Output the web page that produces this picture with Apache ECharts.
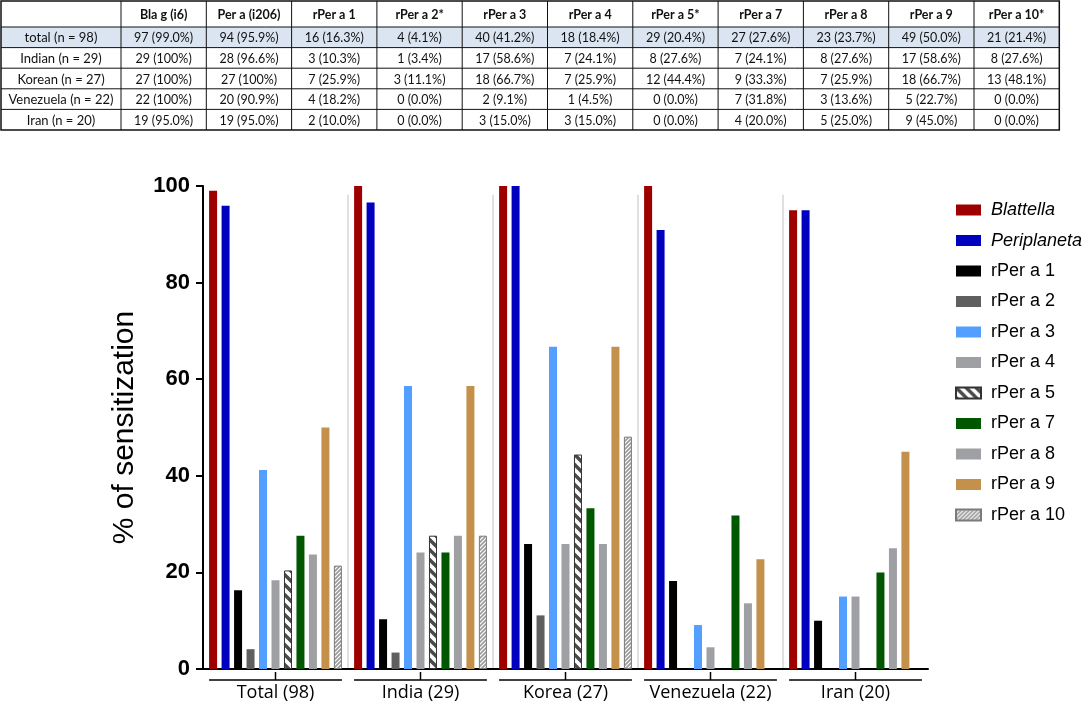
<!DOCTYPE html>
<html><head><meta charset="utf-8">
<script src="https://cdn.jsdelivr.net/npm/echarts@6/dist/echarts.min.js"></script>
<style>html,body{margin:0;padding:0;background:#fff}#c{width:1084px;height:706px}</style>
</head><body><div id="c"></div>
<script>
// ---- chart data (percent sensitized) ----
const categories = ['Total (98)', 'India (29)', 'Korea (27)', 'Venezuela (22)', 'Iran (20)'];
const seriesNames = ['Blattella', 'Periplaneta', 'rPer a 1', 'rPer a 2', 'rPer a 3', 'rPer a 4', 'rPer a 5', 'rPer a 7', 'rPer a 8', 'rPer a 9', 'rPer a 10'];
const blattella   = [99.0, 100, 100, 100, 95.0];
const periplaneta = [95.9, 96.6, 100, 90.9, 95.0];
const rPer1  = [16.3, 10.3, 25.9, 18.2, 10.0];
const rPer2  = [4.1, 3.4, 11.1, 0.0, 0.0];
const rPer3  = [41.2, 58.6, 66.7, 9.1, 15.0];
const rPer4  = [18.4, 24.1, 25.9, 4.5, 15.0];
const rPer5  = [20.4, 27.6, 44.4, 0.0, 0.0];
const rPer7  = [27.6, 24.1, 33.3, 31.8, 20.0];
const rPer8  = [23.7, 27.6, 25.9, 13.6, 25.0];
const rPer9  = [50.0, 58.6, 66.7, 22.7, 45.0];
const rPer10 = [21.4, 27.6, 48.1, 0.0, 0.0];
const yTicks = [0, 20, 40, 60, 80, 100];

// ---- table data ----
const tableColumns = ['Bla g (i6)', 'Per a (i206)', 'rPer a 1', 'rPer a 2*', 'rPer a 3', 'rPer a 4', 'rPer a 5*', 'rPer a 7', 'rPer a 8', 'rPer a 9', 'rPer a 10*'];
const tableRows = ['total (n = 98)', 'Indian (n = 29)', 'Korean (n = 27)', 'Venezuela (n = 22)', 'Iran (n = 20)'];
const countsTotal     = [97, 94, 16, 4, 40, 18, 29, 27, 23, 49, 21];
const countsIndian    = [29, 28, 3, 1, 17, 7, 8, 7, 8, 17, 8];
const countsKorean    = [27, 27, 7, 3, 18, 7, 12, 9, 7, 18, 13];
const countsVenezuela = [22, 20, 4, 0, 2, 1, 0, 7, 3, 5, 0];
const countsIran      = [19, 19, 2, 0, 3, 3, 0, 4, 5, 9, 0];

const seriesData = [blattella, periplaneta, rPer1, rPer2, rPer3, rPer4, rPer5, rPer7, rPer8, rPer9, rPer10];
const tableCounts = [countsTotal, countsIndian, countsKorean, countsVenezuela, countsIran];

// ---- patterns ----
function stripesBack() { // "\" thick dark stripes on white
  const c = document.createElement('canvas'); c.width = 10; c.height = 10;
  const g = c.getContext('2d');
  g.fillStyle = '#ffffff'; g.fillRect(0, 0, 10, 10);
  g.strokeStyle = '#4a4a4a'; g.lineWidth = 3.4;
  [-10, 0, 10].forEach(o => { g.beginPath(); g.moveTo(o - 5, -5); g.lineTo(o + 15, 15); g.stroke(); });
  return c;
}
function stripesFwd() { // "/" thin white stripes on grey
  const c = document.createElement('canvas'); c.width = 4; c.height = 4;
  const g = c.getContext('2d');
  g.fillStyle = '#9a9a9a'; g.fillRect(0, 0, 4, 4);
  g.strokeStyle = '#ffffff'; g.lineWidth = 1.2;
  [-4, 0, 4].forEach(o => { g.beginPath(); g.moveTo(o - 2, 6); g.lineTo(o + 6, -2); g.stroke(); });
  return c;
}

const colors = [
  '#9e0000', '#0000bf', '#000000', '#5f5f5f', '#529fff', '#9fa0a4',
  { image: stripesBack(), repeat: 'repeat' },
  '#005700', '#9fa0a4', '#c4914c',
  { image: stripesFwd(), repeat: 'repeat' }
];
const borders = [null, null, null, null, null, null, '#333333', null, null, null, '#7a7a7a'];

const BAR_W = 8, BAR_GAP = 0.56;

const chart = echarts.init(document.getElementById('c'), null, { renderer: 'canvas' });

const series = seriesNames.map((name, i) => ({
  name: name,
  type: 'bar',
  data: seriesData[i].map(v => v === 0 ? { value: v, itemStyle: { borderWidth: 0 } } : v),
  barWidth: BAR_W,
  barGap: (BAR_GAP * 100) + '%',
  itemStyle: Object.assign({ color: colors[i] }, borders[i] ? { borderColor: borders[i], borderWidth: 1 } : {}),
  emphasis: { disabled: true },
  animation: false
}));

const option = {
  animation: false,
  backgroundColor: '#ffffff',
  grid: { left: 203, width: 725, top: 186, bottom: 37, containLabel: false },
  legend: {
    orient: 'vertical', left: 950, top: 196,
    itemWidth: 25, itemHeight: 11, itemGap: 12.5, icon: 'rect',
    data: seriesNames,
    formatter: n => (n === 'Blattella' || n === 'Periplaneta') ? '{it|' + n + '}' : '{n|' + n + '}',
    textStyle: {
      color: '#000', fontFamily: 'Liberation Sans', fontSize: 18, padding: [0, 0, 0, 5],
      rich: {
        it: { fontStyle: 'italic', fontSize: 18, fontFamily: 'Liberation Sans', color: '#000', lineHeight: 18 },
        n: { fontSize: 18, fontFamily: 'Liberation Sans', color: '#000', lineHeight: 18 }
      }
    }
  },
  xAxis: {
    type: 'category', data: categories,
    axisLine: { show: true, lineStyle: { color: '#000', width: 2 } },
    axisTick: { show: false },
    axisLabel: { interval: 0, margin: 15, fontSize: 18, fontFamily: 'Open Sans', color: '#000' },
    splitLine: { show: false }
  },
  yAxis: {
    type: 'value', min: yTicks[0], max: yTicks[yTicks.length - 1], interval: yTicks[1] - yTicks[0],
    name: '% of sensitization', nameLocation: 'middle', nameGap: 63,
    nameTextStyle: { fontSize: 30, fontFamily: 'Liberation Sans', color: '#000' },
    axisLine: { show: true, lineStyle: { color: '#000', width: 2 } },
    axisTick: { show: true, length: 7, lineStyle: { color: '#000', width: 2 } },
    axisLabel: { fontSize: 22, fontWeight: 'bold', fontFamily: 'Liberation Sans', color: '#000', margin: 13 },
    splitLine: { show: false }
  },
  series: series
};
chart.setOption(option);

// ---- table graphics ----
const T_LEFT = 1, T_TOP = 1, FIRST_W = 120, COL_W = 85.3, HEAD_H = 26, ROW_H = 20.6;
const tableW = FIRST_W + COL_W * tableColumns.length;
const tableH = HEAD_H + ROW_H * tableRows.length;
const gfx = [];
function fmtPct(p) { return p === 100 ? '100' : p.toFixed(1); }
gfx.push({ type: 'rect', shape: { x: T_LEFT, y: T_TOP + HEAD_H, width: tableW, height: ROW_H }, style: { fill: '#dbe5f1' }, silent: true });
for (let r = 0; r < tableRows.length; r++) {
  const y = T_TOP + HEAD_H + r * ROW_H;
  gfx.push({ type: 'line', shape: { x1: T_LEFT, y1: y, x2: T_LEFT + tableW, y2: y }, style: { stroke: '#111', lineWidth: 1 }, silent: true });
}
for (let c = 0; c < tableColumns.length; c++) {
  const x = T_LEFT + FIRST_W + c * COL_W;
  gfx.push({ type: 'line', shape: { x1: x, y1: T_TOP, x2: x, y2: T_TOP + tableH }, style: { stroke: '#111', lineWidth: 1 }, silent: true });
}
gfx.push({ type: 'rect', shape: { x: T_LEFT, y: T_TOP, width: tableW, height: tableH }, style: { fill: 'none', stroke: '#111', lineWidth: 1.5 }, silent: true });
tableColumns.forEach((h, c) => {
  gfx.push({ type: 'text', x: T_LEFT + FIRST_W + c * COL_W + COL_W / 2, y: T_TOP + HEAD_H / 2 + 1,
    style: { text: h, fontFamily: 'Lato', fontWeight: 'bold', fontSize: 12.5, fill: '#111', align: 'center', verticalAlign: 'middle' }, silent: true });
});
tableRows.forEach((rl, r) => {
  const yc = T_TOP + HEAD_H + r * ROW_H + ROW_H / 2 + 1;
  gfx.push({ type: 'text', x: T_LEFT + FIRST_W / 2, y: yc,
    style: { text: rl, fontFamily: 'Lato', fontSize: 13, fill: '#111', align: 'center', verticalAlign: 'middle' }, silent: true });
  tableColumns.forEach((h, c) => {
    const txt = tableCounts[r][c] + ' (' + fmtPct(seriesData[c][r]) + '%)';
    gfx.push({ type: 'text', x: T_LEFT + FIRST_W + c * COL_W + COL_W / 2, y: yc,
      style: { text: txt, fontFamily: 'Lato', fontSize: 12.5, fill: '#111', align: 'center', verticalAlign: 'middle' }, silent: true });
  });
});

// ---- separators & group brackets (positioned from the axes) ----
const y0 = chart.convertToPixel({ yAxisIndex: 0 }, 0);
const ySepTop = chart.convertToPixel({ yAxisIndex: 0 }, 98.2);
const centers = categories.map(c => chart.convertToPixel({ xAxisIndex: 0 }, c));
const band = centers[1] - centers[0];
const n = seriesNames.length;
const half = (n * BAR_W + (n - 1) * BAR_W * BAR_GAP) / 2;
for (let i = 1; i < categories.length; i++) {
  const x = centers[i] - band / 2;
  gfx.push({ type: 'line', shape: { x1: x, y1: y0 - 1, x2: x, y2: ySepTop }, style: { stroke: '#d6d6d6', lineWidth: 1.5 }, silent: true, z: -1 });
}
centers.forEach(cx => {
  gfx.push({ type: 'line', shape: { x1: cx - half, y1: y0 + 11, x2: cx + half, y2: y0 + 11 }, style: { stroke: '#000', lineWidth: 1.5 }, silent: true });
  gfx.push({ type: 'line', shape: { x1: cx, y1: y0 + 3, x2: cx, y2: y0 + 11 }, style: { stroke: '#000', lineWidth: 1.5 }, silent: true });
});

chart.setOption({ graphic: { elements: gfx } });
</script>
</body></html>
